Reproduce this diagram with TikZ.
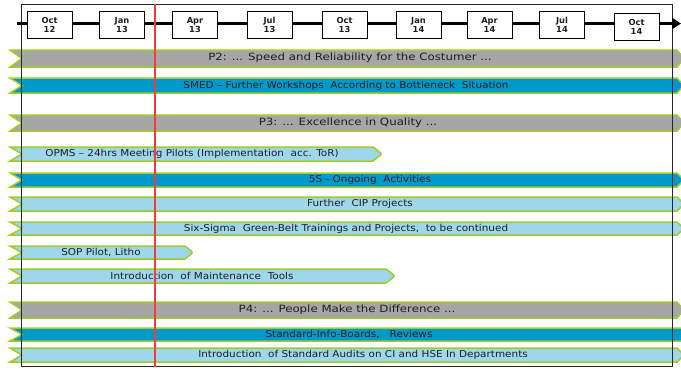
\documentclass[tikz,border=0pt]{standalone}
\usepackage{fontspec}
\usepackage{graphicx}
\setmainfont{DejaVu Sans}
\usetikzlibrary{arrows.meta}
\definecolor{pgray}{RGB}{166,166,166}
\definecolor{dblue}{RGB}{0,153,204}
\definecolor{lblue}{RGB}{158,215,236}
\definecolor{bgreen}{RGB}{160,204,40}
\definecolor{redl}{RGB}{240,60,60}
\definecolor{txt}{RGB}{30,30,30}
\newcommand\ganttbar[5]{%
  \path[barline,fill=#4] (10,#1) -- ({#3-#5},#1)
    [rounded corners=2pt] -- (#3,{(#1+#2)/2}) [sharp corners] -- ({#3-#5},#2)
    -- (10,#2) -- (22,{(#1+#2)/2}) -- cycle;}
\newcommand\bt[1]{\scalebox{1.1}[1]{#1}}
\newcommand\pt[1]{\scalebox{1.18}[1]{#1}}
\begin{document}
\begin{tikzpicture}[x=1pt,y=-1pt,
  datebox/.style={draw=black, line width=1pt, fill=white, minimum width=45pt,
    minimum height=27pt, inner sep=0pt, align=center,
    font=\bfseries\fontsize{8.3}{8.8}\selectfont, text=txt},
  bartext/.style={font=\fontsize{9.5}{10}\selectfont, text=txt, inner sep=0pt},
  ptext/.style={font=\fontsize{10}{11}\selectfont, text=txt, inner sep=0pt},
  barline/.style={draw=bgreen, line width=1.5pt},
  frameline/.style={draw=black!85, line width=1pt},
  timeline/.style={line width=3pt, -{Triangle[length=9pt,width=11pt]}},
  todayline/.style={draw=redl, line width=1.3pt}]
\useasboundingbox (0,0) rectangle (681,368);

% bars
\ganttbar{50}{67}{684}{pgray}{7}
\ganttbar{78}{93}{684}{dblue}{7}
\ganttbar{115}{131}{684}{pgray}{7}
\ganttbar{147}{161}{382}{lblue}{9}
\ganttbar{173}{187}{684}{dblue}{7}
\ganttbar{197}{211}{684}{lblue}{7}
\ganttbar{222}{235}{684}{lblue}{7}
\ganttbar{246}{259}{193}{lblue}{8}
\ganttbar{269}{283}{395}{lblue}{9}
\ganttbar{302}{318}{684}{pgray}{7}
\ganttbar{328}{341}{692}{dblue}{7}
\ganttbar{348}{362}{684}{lblue}{7}

% frame
\draw[frameline] (21,4) rectangle (672,366.5);

% timeline
\coordinate (tls) at (17,23.5);
\coordinate (tle) at (681,23.5);
\draw[timeline] (tls) -- (tle);
\node[datebox] (d1) at (49.5,25) {Oct\\12};
\node[datebox] (d2) at (122,25) {Jan\\13};
\node[datebox] (d3) at (195,25) {Apr\\13};
\node[datebox] (d4) at (269.5,25) {Jul\\13};
\node[datebox] (d5) at (344.5,25) {Oct\\13};
\node[datebox] (d6) at (418.5,25) {Jan\\14};
\node[datebox] (d7) at (489.5,25) {Apr\\14};
\node[datebox] (d8) at (562,25) {Jul\\14};
\node[datebox] (d9) at (636.5,27) {Oct\\14};

% texts
\node[ptext] (t1) at (350,58) {\pt{P2: ... Speed and Reliability for the Costumer ...}};
\node[bartext] (t2) at (346,86) {\bt{SMED -- Further Workshops~ According to Bottleneck~ Situation}};
\node[ptext] (t3) at (348,123) {\pt{P3: ... Excellence in Quality ...}};
\node[bartext] (t4) at (192,154) {\bt{OPMS -- 24hrs Meeting Pilots (Implementation~ acc. ToR)}};
\node[bartext] (t5) at (370,180) {\bt{5S - Ongoing~ Activities}};
\node[bartext] (t6) at (360,204) {\bt{Further~ CIP Projects}};
\node[bartext] (t7) at (346,229) {\bt{Six-Sigma~ Green-Belt Trainings and Projects,~ to be continued}};
\node[bartext] (t8) at (101,252) {\bt{SOP Pilot, Litho}};
\node[bartext] (t9) at (202,276) {\bt{Introduction~ of Maintenance~ Tools}};
\node[ptext] (t10) at (347,310) {\pt{P4: ... People Make the Difference ...}};
\node[bartext] (t11) at (349,334) {\bt{Standard-Info-Boards,~~ Reviews}};
\node[bartext] (t12) at (363,355) {\bt{Introduction~ of Standard Audits on CI and HSE In Departments}};

% today line
\coordinate (rt) at (155,4);
\coordinate (rb) at (155,367);
\draw[todayline] (rt) -- (rb);
\end{tikzpicture}
\end{document}
